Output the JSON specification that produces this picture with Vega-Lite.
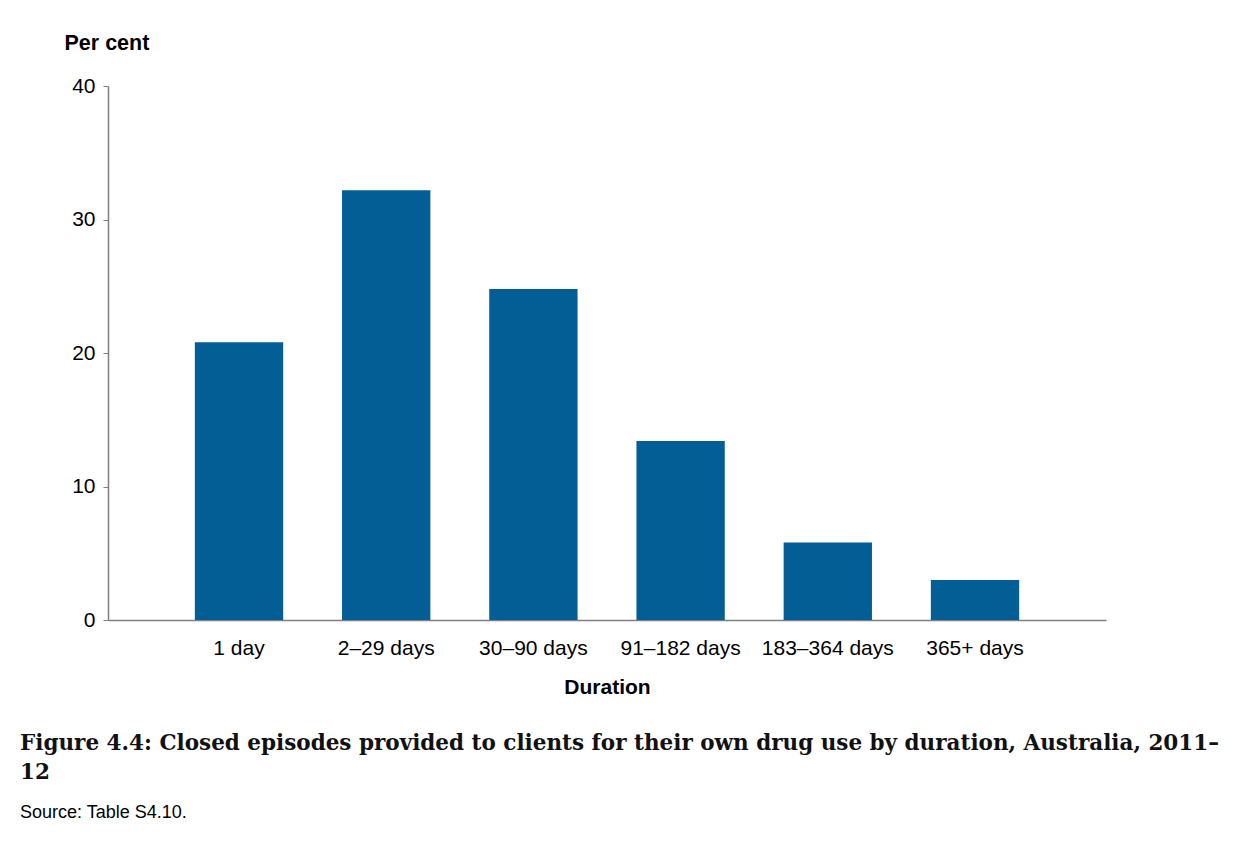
{
  "$schema": "https://vega.github.io/schema/vega-lite/v6.json",
  "width": 998,
  "height": 534,
  "autosize": {"type": "none"},
  "padding": {"left": 108, "top": 86, "right": 136, "bottom": 234},
  "background": "white",
  "data": {
    "values": [
      {"duration": "1 day", "percent": 20.8},
      {"duration": "2–29 days", "percent": 32.2},
      {"duration": "30–90 days", "percent": 24.8},
      {"duration": "91–182 days", "percent": 13.4},
      {"duration": "183–364 days", "percent": 5.8},
      {"duration": "365+ days", "percent": 3.0}
    ]
  },
  "title": {
    "text": ["Figure 4.4: Closed episodes provided to clients for their own drug use by duration, Australia, 2011–", "12"],
    "subtitle": "Source: Table S4.10.",
    "orient": "bottom",
    "anchor": "start",
    "frame": "group",
    "dx": -88,
    "offset": 36,
    "font": "DejaVu Serif",
    "fontSize": 21.5,
    "fontWeight": "bold",
    "lineHeight": 29,
    "color": "#111111",
    "subtitleFont": "Liberation Sans",
    "subtitleFontSize": 18,
    "subtitleColor": "#000000",
    "subtitlePadding": 20
  },
  "mark": {"type": "bar", "color": "#025E94"},
  "encoding": {
    "x": {
      "field": "duration",
      "type": "nominal",
      "sort": null,
      "scale": {"paddingInner": 0.4, "paddingOuter": 0.59},
      "axis": {
        "title": "Duration",
        "titleFont": "Liberation Sans",
        "titleFontSize": 21,
        "titleFontWeight": "bold",
        "titleColor": "#000000",
        "titlePadding": 18,
        "labelAngle": 0,
        "labelFont": "Liberation Sans",
        "labelFontSize": 21,
        "labelColor": "#000000",
        "labelPadding": 17,
        "ticks": false,
        "domainColor": "#808080",
        "domainWidth": 1.5
      }
    },
    "y": {
      "field": "percent",
      "type": "quantitative",
      "scale": {"domain": [0, 40], "nice": false},
      "axis": {
        "title": "Per cent",
        "titleAngle": 0,
        "titleAlign": "left",
        "titleBaseline": "alphabetic",
        "titleX": -44,
        "titleY": -37,
        "titleFont": "Liberation Sans",
        "titleFontSize": 21.5,
        "titleFontWeight": "bold",
        "titleColor": "#000000",
        "values": [0, 10, 20, 30, 40],
        "grid": false,
        "labelFont": "Liberation Sans",
        "labelFontSize": 21,
        "labelColor": "#000000",
        "labelPadding": 8,
        "tickSize": 5,
        "tickColor": "#808080",
        "domainColor": "#808080",
        "domainWidth": 1.5
      }
    }
  },
  "config": {"view": {"stroke": null}}
}
